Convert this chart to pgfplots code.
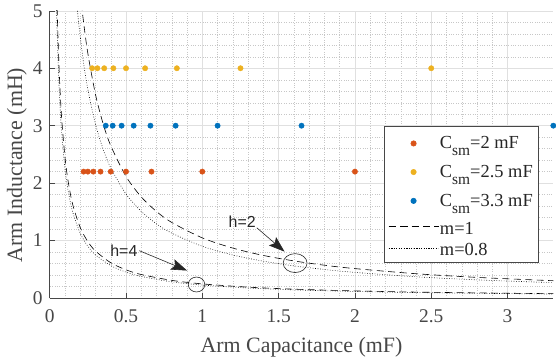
\documentclass[border=0pt]{standalone}
\usepackage{fontspec}
\setmainfont{Liberation Serif}
\newfontfamily\hfont{Liberation Sans}
\usepackage{pgfplots}
\pgfplotsset{compat=1.18}
\usetikzlibrary{arrows.meta}

\definecolor{mred}{rgb}{0.850,0.325,0.098}
\definecolor{myellow}{rgb}{0.929,0.694,0.125}
\definecolor{mblue}{rgb}{0.000,0.447,0.741}
\definecolor{axgray}{rgb}{0.15,0.15,0.15}

\newcommand{\csm}{C\raisebox{-7pt}{\fontsize{15.5}{15.5}\selectfont sm}}
% fixed row heights (height, depth) for the legend entries
\newcommand{\rowstrut}[2]{\rule[-#2]{0pt}{\dimexpr#1+#2\relax}}

\begin{document}
\begin{tikzpicture}
\begin{axis}[
  scale only axis,
  width=506pt, height=288.5pt,
  xmin=0, xmax=3.3, ymin=0, ymax=5,
  xtick={0,0.5,1,1.5,2,2.5,3},
  ytick={0,1,2,3,4,5},
  minor x tick num=4, minor y tick num=4,
  grid=both,
  major grid style={color=black!12, line width=0.5pt},
  minor grid style={color=black!22, dotted, line width=0.4pt},
  axis x line*=bottom, axis y line*=left,
  axis line style={color=axgray!85, line width=0.6pt, -},
  tick style={color=axgray!85, line width=0.6pt},
  major tick length=5pt, minor tick length=0pt,
  tick align=inside,
  /pgf/number format/assume math mode=true,
  ticklabel style={font=\fontsize{19.5}{19.5}\selectfont, color=axgray!85},
  xticklabel style={inner sep=2pt, yshift=-9.5pt},
  yticklabel style={inner xsep=2pt, inner ysep=4.4pt, xshift=-5pt},
  xlabel={Arm Capacitance (mF)},
  ylabel={Arm Inductance (mH)},
  label style={font=\fontsize{22}{22}\selectfont, color=axgray!85},
  xlabel style={at={(axis description cs:0.5,-0.19)}, anchor=base, inner sep=4pt},
  ylabel style={at={(axis description cs:-0.0652,0.463)}, anchor=center, inner sep=7pt},
  legend cell align=left,
  legend image code/.code={\draw[mark repeat=2,mark phase=2,#1] plot coordinates {(0pt,0pt) (25pt,0pt) (50pt,0pt)};},
  legend style={at={(rel axis cs:0.664,0.598)}, anchor=north west,
    draw=axgray!85, line width=0.6pt, fill=white,
    font=\fontsize{18.5}{18.5}\selectfont, text=axgray,
    inner xsep=4pt, inner ysep=3pt, row sep=0pt,
    nodes={inner xsep=1.2pt, inner ysep=0pt, text depth=}},
]

% sample designs for each submodule capacitance
\addplot[only marks, mark=*, mark size=2.7pt, color=mred]
  coordinates {(0.222,2.2) (0.25,2.2) (0.286,2.2) (0.333,2.2) (0.4,2.2)
               (0.5,2.2) (0.667,2.2) (1,2.2) (2,2.2)};
\addlegendentry{\rowstrut{19.3pt}{8.7pt}\csm=2 mF}
\addplot[only marks, mark=*, mark size=2.7pt, color=myellow]
  coordinates {(0.278,4) (0.3125,4) (0.357,4) (0.417,4) (0.5,4)
               (0.625,4) (0.833,4) (1.25,4) (2.5,4)};
\addlegendentry{\rowstrut{20.3pt}{9.1pt}\csm=2.5 mF}
\addplot[only marks, mark=*, mark size=2.7pt, color=mblue]
  coordinates {(0.367,3) (0.4125,3) (0.471,3) (0.55,3) (0.66,3)
               (0.825,3) (1.1,3) (1.65,3) (3.3,3)};
\addlegendentry{\rowstrut{19.9pt}{8.7pt}\csm=3.3 mF}

% resonance boundaries, h=2
\addplot[black, line width=0.6pt, dash pattern=on 7pt off 4.5pt, smooth]
  coordinates {(0.2,5.326) (0.22,4.840) (0.25,4.256) (0.3,3.543) (0.35,3.033)
               (0.4,2.651) (0.5,2.116) (0.6,1.759) (0.7,1.505) (0.8,1.314)
               (1.0,1.046) (1.2,0.868) (1.4,0.740) (1.6,0.645) (1.8,0.570)
               (2.0,0.511) (2.4,0.422) (2.8,0.358) (3.3,0.300)};
\addlegendentry{\rowstrut{19pt}{3.6pt}m=1}
\addplot[black, line width=0.6pt, dash pattern=on 0.7pt off 1.8pt, smooth]
  coordinates {(0.17,5.343) (0.19,4.779) (0.22,4.126) (0.25,3.630) (0.3,3.023)
               (0.35,2.590) (0.4,2.265) (0.5,1.810) (0.6,1.507) (0.7,1.290)
               (0.8,1.128) (1.0,0.900) (1.2,0.748) (1.4,0.640) (1.6,0.559)
               (1.8,0.496) (2.0,0.445) (2.4,0.369) (2.8,0.315) (3.3,0.266)};
\addlegendentry{\rowstrut{18.1pt}{3.3pt}m=0.8}

% resonance boundaries, h=4
\addplot[black, line width=0.6pt, dash pattern=on 7pt off 4.5pt, smooth, forget plot]
  coordinates {(0.045,5.444) (0.05,4.900) (0.06,4.083) (0.07,3.500) (0.08,3.063)
               (0.1,2.450) (0.12,2.042) (0.15,1.633) (0.2,1.225) (0.25,0.980)
               (0.3,0.817) (0.4,0.613) (0.5,0.490) (0.6,0.408) (0.8,0.306)
               (1.0,0.245) (1.3,0.188) (1.6,0.153) (2.0,0.123) (2.5,0.098) (3.3,0.074)};
\addplot[black, line width=0.6pt, dash pattern=on 0.7pt off 1.8pt, smooth, forget plot]
  coordinates {(0.042,5.357) (0.045,5.000) (0.05,4.500) (0.06,3.750) (0.07,3.214)
               (0.08,2.813) (0.1,2.250) (0.12,1.875) (0.15,1.500) (0.2,1.125)
               (0.25,0.900) (0.3,0.750) (0.4,0.563) (0.5,0.450) (0.6,0.375)
               (0.8,0.281) (1.0,0.225) (1.3,0.173) (1.6,0.141) (2.0,0.113)
               (2.5,0.090) (3.3,0.068)};

% annotations
\node[font=\hfont\fontsize{16}{16}\selectfont, text=axgray] at (axis cs:1.261,1.329) {h=2};
\draw[-{Stealth[length=16pt,width=11pt,inset=3pt]}, line width=0.6pt, axgray]
  (axis cs:1.357,1.222) -- (axis cs:1.539,0.806);
\draw[line width=0.6pt, axgray] (axis cs:1.608,0.607) ellipse [x radius=12pt, y radius=9.5pt];

\node[font=\hfont\fontsize{16}{16}\selectfont, text=axgray] at (axis cs:0.486,0.815) {h=4};
\draw[-{Stealth[length=16pt,width=11pt,inset=3pt]}, line width=0.6pt, axgray]
  (axis cs:0.587,0.823) -- (axis cs:0.900,0.477);
\draw[line width=0.6pt, axgray] (axis cs:0.962,0.234) ellipse [x radius=8.3pt, y radius=7.5pt];

\end{axis}
\end{tikzpicture}
\end{document}
